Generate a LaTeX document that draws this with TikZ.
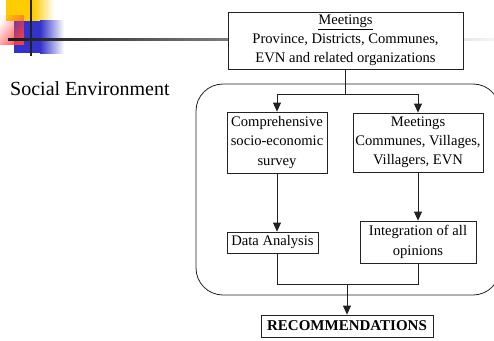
\documentclass[tikz,border=0pt]{standalone}
\usepackage{fontspec}
\setmainfont{Liberation Serif}
\usetikzlibrary{arrows.meta,fadings}
\definecolor{ylw}{HTML}{FFCC00}
\definecolor{blu}{HTML}{3333CC}
\definecolor{pnk}{HTML}{FF4040}
\definecolor{ln}{HTML}{222222}
\tikzfading[name=diagfade, left color=transparent!95, right color=transparent!5, shading angle=45]
\tikzset{
  boxnode/.style={draw=ln, line width=0.8pt, align=center, inner sep=0pt,
    font=\fontsize{14.6}{19.2}\selectfont},
  conn/.style={draw=ln, line width=0.8pt},
  arr/.style={conn, -{Triangle[length=9pt,width=8pt]}}
}
\begin{document}
\begin{tikzpicture}[x=1pt,y=-1pt]
\useasboundingbox (0,0) rectangle (494,340);
\clip (0,0) rectangle (494,340);
% logo
\fill[ylw] (6,0) rectangle (33,20.5);
\shade[left color=ylw, right color=white] (33,0) rectangle (54,20.5);
\fill[blu] (14,20.5) rectangle (40,53);
\shade[left color=blu, right color=white] (40,20.5) rectangle (64,53);
\fill[pnk, path fading=diagfade] (0,15) rectangle (24,45);
\fill[ln] (29.5,0) rectangle (31.8,56);
\shade[left color=black!90, right color=black!4] (8,38.4) rectangle (494,40.7);
% rounded region
\draw[ln, line width=0.8pt, rounded corners=27pt] (196,84) rectangle (500,295);
% nodes
\node[boxnode, fill=white, minimum width=235pt, minimum height=57pt] (top) at (345.5,40.5)
  {\underline{Meetings}\\Province, Districts, Communes,\\EVN and related organizations};
\node[anchor=base west, inner sep=0pt, font=\fontsize{20}{24}\selectfont] (soc) at (10,95) {Social Environment};
\node[boxnode, minimum width=100pt, minimum height=61pt] (survey) at (277,142.5)
  {Comprehensive\\socio-economic\\survey};
\node[boxnode, minimum width=130pt, minimum height=59pt] (meet) at (418,142.5)
  {Meetings\\Communes, Villages,\\Villagers, EVN};
\node[boxnode, minimum width=91pt, minimum height=21pt] (data) at (272.5,242.5)
  {Data Analysis};
\node[boxnode, minimum width=116pt, minimum height=42pt] (integ) at (418,242)
  {Integration of all\\opinions};
\node[boxnode, minimum width=172pt, minimum height=22pt, font=\fontsize{15}{18}\selectfont\bfseries] (rec) at (347,326)
  {RECOMMENDATIONS};
% connectors
\coordinate (split) at (top.south |- 0,94);
\coordinate (sl) at (survey.north |- split);
\coordinate (sr) at (meet.north |- split);
\draw[conn] (top.south) -- (split);
\draw[conn] (sl) -- (sr);
\draw[arr] (sl) -- (survey.north);
\draw[arr] (sr) -- (meet.north);
\draw[arr] (survey.south) -- (survey.south |- data.north);
\draw[arr] (meet.south) -- (integ.north);
\coordinate (jl) at (survey.south |- 0,284);
\coordinate (jr) at (integ.south |- 0,284);
\coordinate (jm) at (rec.north |- 0,284);
\draw[conn] (survey.south |- data.south) -- (jl) -- (jr) -- (integ.south);
\draw[arr] (jm) -- (rec.north);
\end{tikzpicture}
\end{document}
